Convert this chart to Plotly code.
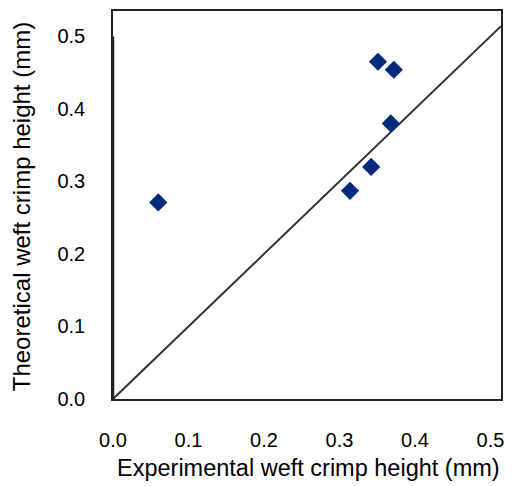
import plotly.graph_objects as go

# Data
experimental = [0.060, 0.351, 0.372, 0.368, 0.342, 0.314]
theoretical = [0.271, 0.465, 0.454, 0.380, 0.320, 0.287]
line_x = [0.0, 0.514]
line_y = [0.0, 0.514]
tick_vals = [0.0, 0.1, 0.2, 0.3, 0.4, 0.5]
tick_text = ["0.0", "0.1", "0.2", "0.3", "0.4", "0.5"]
x_title = "Experimental weft crimp height (mm)"
y_title = "Theoretical weft crimp height (mm)"

fig = go.Figure()
fig.add_trace(go.Scatter(x=line_x, y=line_y, mode="lines",
                         line=dict(color="#333333", width=2), hoverinfo="skip"))
fig.add_trace(go.Scatter(x=experimental, y=theoretical, mode="markers",
                         marker=dict(symbol="diamond", size=14, color="#002a7c",
                                     line=dict(width=0))))

# thicker left axis segment (0 to 0.5)
fig.add_shape(type="line", x0=0, x1=0, y0=0, y1=0.5, xref="x", yref="y",
              line=dict(color="#222222", width=2.5))

fig.update_layout(
    width=513, height=486,
    margin=dict(l=113, r=9, t=10, b=87),
    paper_bgcolor="white", plot_bgcolor="white",
    showlegend=False,
    font=dict(family="Liberation Sans, Arial, sans-serif", color="black", size=20),
    annotations=[
        dict(text=x_title, xref="paper", yref="paper", x=0.5026, y=-0.1774,
             xanchor="center", yanchor="middle", showarrow=False,
             font=dict(size=23.5)),
        dict(text=y_title, xref="paper", yref="paper", x=-0.2353, y=0.496,
             xanchor="center", yanchor="middle", showarrow=False, textangle=-90,
             font=dict(size=24)),
    ],
)
fig.update_xaxes(range=[0, 0.514], tickvals=tick_vals, ticktext=tick_text,
                 showgrid=False, zeroline=False, showline=True, mirror=True,
                 linecolor="#222222", linewidth=1.5, ticks="", ticklabelstandoff=22)
fig.update_yaxes(range=[0, 0.535], tickvals=tick_vals, ticktext=tick_text,
                 showgrid=False, zeroline=False, showline=True, mirror=True,
                 linecolor="#222222", linewidth=1.5, ticks="", ticklabelstandoff=22)

fig.write_html("out.html")
